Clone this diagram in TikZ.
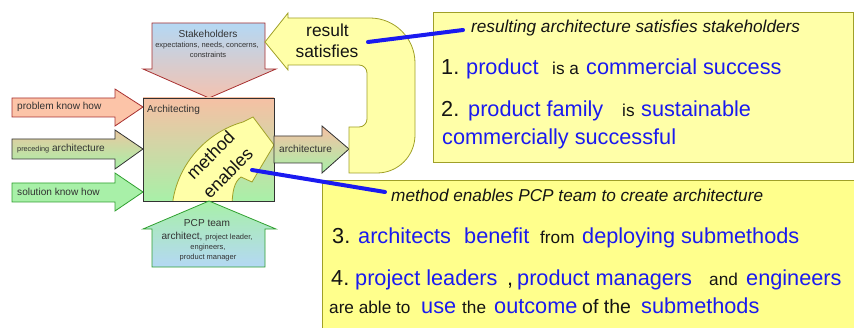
\documentclass[tikz,border=0pt]{standalone}
\usepackage{fontspec}
\setmainfont{Liberation Sans}
\definecolor{probF}{RGB}{252,196,168}
\definecolor{probB}{RGB}{168,48,48}
\definecolor{salm}{RGB}{246,192,164}
\definecolor{grn}{RGB}{168,240,168}
\definecolor{grnB}{RGB}{48,160,48}
\definecolor{lblue}{RGB}{180,216,244}
\definecolor{pinkS}{RGB}{244,194,176}
\definecolor{beige}{RGB}{232,200,160}
\definecolor{yelF}{RGB}{255,255,168}
\definecolor{yelB}{RGB}{160,160,40}
\definecolor{boxA}{RGB}{255,255,168}
\definecolor{boxB}{RGB}{255,255,140}
\definecolor{tblue}{RGB}{26,26,240}
\definecolor{tblk}{RGB}{20,20,20}
\definecolor{dark}{RGB}{50,50,50}
\tikzset{
  shp/.style={line width=0.8pt},
  yel/.style={shp, fill=yelF, draw=yelB},
  tx/.style={inner sep=0pt, anchor=base west, text=tblk},
  bb/.style={tx, text=tblue, font=\fontsize{21.7}{24}\selectfont},
  bk/.style={tx, font=\fontsize{21.7}{24}\selectfont},
  sk/.style={tx, font=\fontsize{17.2}{20}\selectfont},
  itx/.style={tx, font=\fontsize{17.2}{20}\selectfont\itshape},
  lab/.style={inner sep=0pt, text=dark, font=\fontsize{10.1}{12}\selectfont},
  tiny/.style={inner sep=0pt, text=dark, font=\fontsize{7.5}{9}\selectfont},
  mid/.style={inner sep=0pt, text=tblk, font=\fontsize{17.4}{20}\selectfont},
  pointer/.style={draw=tblue, line width=4pt, line cap=round}
}
\begin{document}
\begin{tikzpicture}[x=1pt,y=1pt]
\useasboundingbox (0,0) rectangle (854,327);

% input arrows on the left
\draw[shp, draw=probB, fill=probF] (12,210) -- (115,210) -- (115,201) -- (143,220) -- (115,238) -- (115,229) -- (12,229) -- cycle;
\draw[shp, draw=dark, top color=beige, bottom color=grn] (12,168) -- (115,168) -- (115,158) -- (143,178) -- (115,197) -- (115,188) -- (12,188) -- cycle;
\draw[shp, draw=grnB, fill=grn] (12,125) -- (115,125) -- (115,116) -- (143,135) -- (115,154) -- (115,144) -- (12,144) -- cycle;

% stakeholders arrow
\draw[shp, draw=probB, top color=lblue, bottom color=pinkS] (152,304) -- (265,304) -- (265,258) -- (276,258) -- (209,229) -- (143,258) -- (152,258) -- cycle;

% architecting box
\shade[top color=salm, bottom color=grn] (143,126) rectangle (274,229);
\begin{scope}
  \clip (143,126) rectangle (274,229);
  \draw[yel] (172.5,118) -- (173,127) .. controls (179,164) and (207,195) .. (243,205) -- (253,210) -- (274,182) -- (252,145) -- (241,150) .. controls (234,145) and (232,135) .. (232,118) -- cycle;
\end{scope}
\draw[shp, draw=dark] (143,126) rectangle (274,229);

% PCP team arrow
\draw[shp, draw=grnB, top color=grn, bottom color=lblue] (209,126) -- (276,98) -- (265,98) -- (265,60) -- (152,60) -- (152,98) -- (143,98) -- cycle;

% architecture output arrow
\draw[shp, draw=dark, top color=salm, bottom color=grn] (274,164) -- (322,164) -- (322,154) -- (349,178) -- (322,201) -- (322,191) -- (274,191) -- cycle;

% result satisfies U arrow
\draw[yel] (265,285) -- (288,314) -- (288,309) -- (370,309) arc[start angle=90, end angle=0, radius=45pt] -- (415,192) arc[start angle=0, end angle=-90, radius=38pt] -- (349,154) -- (349,200) -- (359,200) arc[start angle=-90, end angle=0, radius=8pt] -- (367,254) arc[start angle=0, end angle=90, radius=8pt] -- (288,262) -- (288,257) -- cycle;

% text boxes
\draw[shp, draw=yelB, fill=boxA] (433,165) rectangle (853,315);
\draw[shp, draw=yelB, fill=boxB] (322,-5) rectangle (860,147);

% labels in diagram
\node[lab, anchor=west] (lp) at (17,220) {problem know how};
\node[lab, anchor=west] (lpa) at (17,178) {{\fontsize{7.3}{9}\selectfont preceding} architecture};
\node[lab, anchor=west] (ls) at (17,135) {solution know how};
\node[lab, anchor=base west] (la) at (147,214) {Architecting};
\node[lab, anchor=base] (lst) at (208,289) {Stakeholders};
\node[tiny, anchor=base] (lst2) at (207,279) {expectations, needs, concerns,};
\node[tiny, anchor=base] (lst3) at (208,269) {constraints};
\node[lab, anchor=base] (lpcp) at (207,101) {PCP team};
\node[lab, anchor=base] (lpcp2) at (207,88) {architect, {\fontsize{7.5}{9}\selectfont project leader,}};
\node[tiny, anchor=base] (lpcp3) at (208,78) {engineers,};
\node[tiny, anchor=base] (lpcp4) at (208,68) {product manager};
\node[lab, anchor=west] (lout) at (279,178) {architecture};
\node[mid, anchor=base] (lres) at (327.5,290) {result};
\node[mid, anchor=base] (lres2) at (327,269) {satisfies};
\node[mid, rotate=45, align=center, font=\fontsize{17.8}{24.7}\selectfont] (lm) at (219,163) {method\\enables};

% box 1 text
\node[itx] (i1) at (471,294) {resulting architecture satisfies stakeholders};
\node[bk] (a1) at (441,252) {1.};
\node[bb] (a2) at (466,252) {product};
\node[sk] (a3) at (552,252) {is a};
\node[bb] (a4) at (586,252) {commercial success};
\node[bk] (b1) at (441,210) {2.};
\node[bb] (b2) at (468,210) {product family};
\node[sk] (b3) at (622,210) {is};
\node[bb] (b4) at (641,210) {sustainable};
\node[bb] (c1) at (442,182) {commercially successful};

% box 2 text
\node[itx] (i2) at (391,125) {method enables PCP team to create architecture};
\node[bk] (d1) at (332,84) {3.};
\node[bb] (d2) at (358,84) {architects};
\node[bb] (d3) at (464,84) {benefit};
\node[sk] (d4) at (540,84) {from};
\node[bb] (d5) at (582,84) {deploying submethods};
\node[bk] (e1) at (331,42) {4.};
\node[bb] (e2) at (355,42) {project leaders};
\node[bk] (e3) at (507,42) {,};
\node[bb] (e4) at (517,42) {product managers};
\node[sk] (e5) at (709,42) {and};
\node[bb] (e6) at (746,42) {engineers};
\node[sk] (f1) at (329,14) {are able to};
\node[bb] (f2) at (421,14) {use};
\node[sk] (f3) at (462,14) {the};
\node[bb] (f4) at (494,14) {outcome};
\node[sk, font=\fontsize{19.5}{22}\selectfont] (f5) at (582,14) {of the};
\node[bb] (f6) at (641,14) {submethods};

% pointers
\coordinate (p1a) at (368,285);
\coordinate (p1b) at (463,297);
\coordinate (p2a) at (252,157);
\coordinate (p2b) at (385,135);
\draw[pointer] (p1a) -- (p1b);
\draw[pointer] (p2a) -- (p2b);
\end{tikzpicture}
\end{document}
